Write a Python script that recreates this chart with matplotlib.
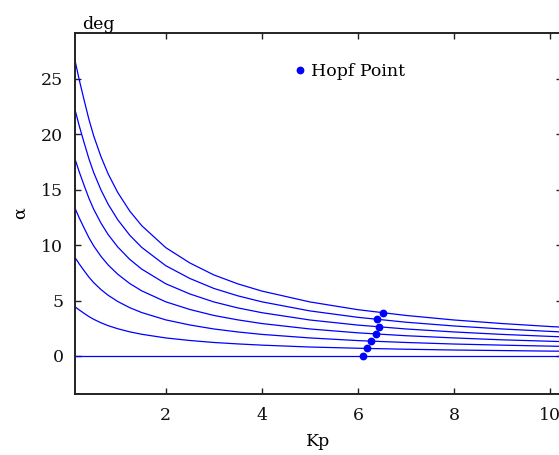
import matplotlib
matplotlib.use("Agg")
import matplotlib.pyplot as plt

# Proportional gain grid (Kp) shared by every equilibrium branch
kp = [0.1, 0.2, 0.3, 0.4, 0.5, 0.65, 0.8, 1.0, 1.25, 1.5, 2.0, 2.5, 3.0, 3.5,
      4.0, 5.0, 6.0, 7.0, 8.0, 9.0, 10.0, 10.4]

# Equilibrium angle of attack (deg) along each branch
alpha_0 = [0.0] * len(kp)
alpha_1 = [4.48, 4.15, 3.85, 3.56, 3.31, 3.00, 2.74, 2.46, 2.18, 1.96, 1.63,
           1.40, 1.22, 1.09, 0.98, 0.81, 0.70, 0.61, 0.54, 0.49, 0.44, 0.43]
alpha_2 = [8.96, 8.30, 7.70, 7.12, 6.62, 6.00, 5.48, 4.92, 4.36, 3.92, 3.26,
           2.80, 2.44, 2.17, 1.95, 1.63, 1.39, 1.22, 1.08, 0.98, 0.89, 0.86]
alpha_3 = [13.44, 12.45, 11.55, 10.68, 9.93, 9.00, 8.22, 7.38, 6.54, 5.88, 4.89,
           4.20, 3.66, 3.26, 2.93, 2.44, 2.09, 1.83, 1.63, 1.46, 1.33, 1.28]
alpha_4 = [17.92, 16.60, 15.40, 14.24, 13.24, 12.00, 10.96, 9.84, 8.72, 7.84, 6.52,
           5.60, 4.88, 4.34, 3.91, 3.25, 2.79, 2.44, 2.17, 1.95, 1.77, 1.71]
alpha_5 = [22.40, 20.75, 19.25, 17.80, 16.55, 15.00, 13.70, 12.30, 10.90, 9.80, 8.15,
           7.00, 6.10, 5.43, 4.89, 4.07, 3.49, 3.05, 2.71, 2.44, 2.22, 2.14]
alpha_6 = [26.88, 24.90, 23.10, 21.36, 19.86, 18.00, 16.44, 14.76, 13.08, 11.76, 9.78,
           8.40, 7.32, 6.51, 5.86, 4.88, 4.18, 3.66, 3.25, 2.93, 2.66, 2.57]
branches = [alpha_0, alpha_1, alpha_2, alpha_3, alpha_4, alpha_5, alpha_6]

# Hopf bifurcation points, one per branch
hopf_kp = [6.10, 6.20, 6.28, 6.38, 6.44, 6.40, 6.52]
hopf_alpha = [0.0, 0.68, 1.34, 1.99, 2.64, 3.31, 3.92]

x_ticks = [2, 4, 6, 8, 10]
y_ticks = [0, 5, 10, 15, 20, 25]

BLUE = "#0000ff"
FONT = "DejaVu Serif"
plt.rcParams["font.family"] = FONT

fig = plt.figure(figsize=(5.59, 4.55), dpi=100)
ax = fig.add_axes([74.5 / 559, 61 / 455, 487.5 / 559, 361 / 455])

for branch in branches:
    ax.plot(kp, branch, color=BLUE, lw=0.9, solid_joinstyle="miter")

ax.plot(hopf_kp, hopf_alpha, linestyle="none", marker="o", ms=4.6,
        color=BLUE, label="Hopf Point")

ax.set_xlim(0.1, 0.1 + 487.5 / 48.03)
ax.set_ylim(-3.43, 29.15)
ax.set_xticks(x_ticks)
ax.set_yticks(y_ticks)
ax.tick_params(direction="in", length=4, width=1.0, labelsize=12.5,
               top=True, right=True, colors="#222222", labelcolor="#111111")
ax.tick_params(axis="x", pad=9)
ax.tick_params(axis="y", pad=8)
for side in ax.spines.values():
    side.set_linewidth(1.4)
    side.set_color("#222222")

ax.set_xlabel("Kp", fontsize=12.5, labelpad=7)
ax.set_ylabel("α", fontsize=12.5, labelpad=9)
fig.text(82 / 559, 1 - 29 / 455, "deg", fontsize=12.5, ha="left", va="baseline")

ax.legend(loc="upper left", bbox_to_anchor=(0.434, 0.942), frameon=False,
          handlelength=0.6, handletextpad=0.35, fontsize=12.5, borderpad=0,
          markerscale=1.0)

fig.savefig("out.png", dpi=100)
